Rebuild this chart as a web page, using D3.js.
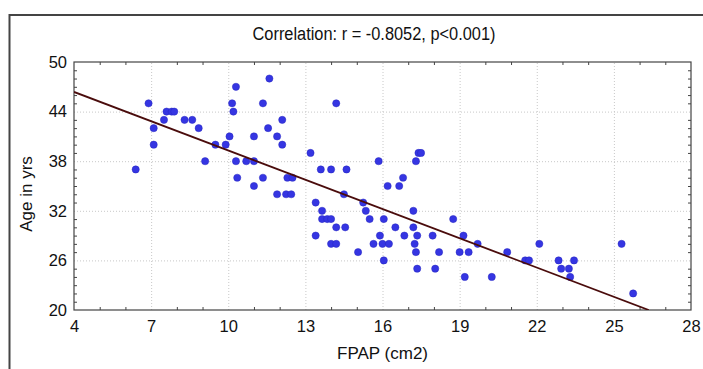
<!DOCTYPE html>
<html>
<head>
<meta charset="utf-8">
<script src="https://cdn.jsdelivr.net/npm/d3@7"></script>
<style>
  body { margin: 0; background: #fff; }
  svg { display: block; font-family: "Liberation Sans", Arial, sans-serif; }
  .grid line { stroke: #c8c8c8; stroke-dasharray: 1,2; }
  .grid .domain { display: none; }
  .minor line { stroke: #444; }
  .minor .domain { display: none; }
  .labels .domain { display: none; }
  .labels text { fill: #111; font-size: 16.5px; }
</style>
</head>
<body>
<div id="chart"></div>
<script>
// FPAP (cm2) and age (yrs) per subject
const fpap = [6.4, 6.9, 7.1, 7.1, 7.5, 7.6, 7.8, 7.9, 8.3, 8.6, 8.85, 9.1, 9.5, 9.9, 10.05, 10.3, 10.15, 10.2,
  10.3, 10.35, 10.7, 11.0, 11.0, 11.0, 11.35, 11.35, 11.6, 11.55, 11.9, 11.9, 12.1, 12.1, 13.2, 14.2, 13.6,
  14.0, 14.6, 12.3, 12.5, 15.85, 16.8, 17.3, 17.4, 17.5, 12.25, 12.45, 13.4, 13.65, 13.65, 13.85, 14.0, 13.4,
  14.2, 14.55, 14.0, 14.2, 14.5, 15.05, 15.25, 15.35, 15.5, 16.05, 15.65, 15.9, 16.0, 16.25, 16.05, 16.2,
  16.65, 16.5, 16.85, 17.2, 17.2, 17.35, 17.25, 17.3, 17.35, 17.95, 18.05, 18.2, 18.75, 19.0, 19.15, 19.35,
  19.7, 19.2, 20.25, 20.85, 21.55, 21.7, 22.1, 22.85, 22.95, 23.25, 23.45, 23.3, 25.3, 25.75];
const age = [37, 45, 42, 40, 43, 44, 44, 44, 43, 43, 42, 38, 40, 40, 41, 47, 45, 44,
  38, 36, 38, 41, 38, 35, 45, 36, 48, 42, 41, 34, 43, 40, 39, 45, 37,
  37, 37, 36, 36, 38, 36, 38, 39, 39, 34, 34, 33, 32, 31, 31, 31, 29,
  30, 30, 28, 28, 34, 27, 33, 32, 31, 31, 28, 29, 28, 28, 26, 35,
  35, 30, 29, 32, 30, 29, 28, 27, 25, 29, 25, 27, 31, 27, 29, 27,
  28, 24, 24, 27, 26, 26, 28, 26, 25, 25, 26, 24, 28, 22];

// fitted line: age = intercept + slope * fpap
const fitIntercept = 51.1;
const fitSlope = -1.18;

const xMajor = [4, 7, 10, 13, 16, 19, 22, 25, 28];
const yMajor = [20, 26, 32, 38, 44, 50];
const titleText = "Correlation: r = -0.8052, p<0.001)";
const xTitle = "FPAP (cm2)";
const yTitle = "Age in yrs";

const W = 703, H = 369;
const plot = { left: 74, top: 62, right: 691, bottom: 310 };

const svg = d3.select('#chart').append('svg')
    .attr('width', W)
    .attr('height', H);

// outer frame (runs off the right and bottom edge)
svg.append('rect')
    .attr('x', 9.5).attr('y', 15)
    .attr('width', W + 20).attr('height', H + 20)
    .attr('fill', 'none')
    .attr('stroke', '#444')
    .attr('stroke-width', 2);

const x = d3.scaleLinear().domain([4, 28]).range([plot.left, plot.right]);
const y = d3.scaleLinear().domain([20, 50]).range([plot.bottom, plot.top]);

const pw = plot.right - plot.left, ph = plot.bottom - plot.top;
const xMinor = d3.range(5, 28).filter(d => (d - 4) % 3 !== 0);
const yMinor = d3.range(21, 50).filter(d => (d - 20) % 6 !== 0);
const xInner = xMajor.slice(1, -1), yInner = yMajor.slice(1, -1);

// grid
svg.append('g').attr('class', 'grid')
    .attr('transform', `translate(0,${plot.bottom})`)
    .call(d3.axisBottom(x).tickValues(xInner).tickSize(-ph).tickFormat(''));
svg.append('g').attr('class', 'grid')
    .attr('transform', `translate(${plot.left},0)`)
    .call(d3.axisLeft(y).tickValues(yInner).tickSize(-pw).tickFormat(''));

// minor ticks on all four sides, pointing inward
svg.append('g').attr('class', 'minor')
    .attr('transform', `translate(0,${plot.bottom})`)
    .call(d3.axisBottom(x).tickValues(xMinor).tickSize(-3).tickFormat(''));
svg.append('g').attr('class', 'minor')
    .attr('transform', `translate(0,${plot.top})`)
    .call(d3.axisTop(x).tickValues(xMinor).tickSize(-3).tickFormat(''));
svg.append('g').attr('class', 'minor')
    .attr('transform', `translate(${plot.left},0)`)
    .call(d3.axisLeft(y).tickValues(yMinor).tickSize(-3).tickFormat(''));
svg.append('g').attr('class', 'minor')
    .attr('transform', `translate(${plot.right},0)`)
    .call(d3.axisRight(y).tickValues(yMinor).tickSize(-3).tickFormat(''));

// tick labels
svg.append('g').attr('class', 'labels')
    .attr('transform', `translate(0,${plot.bottom})`)
    .call(d3.axisBottom(x).tickValues(xMajor).tickSize(0).tickPadding(10));
svg.append('g').attr('class', 'labels')
    .attr('transform', `translate(${plot.left},0)`)
    .call(d3.axisLeft(y).tickValues(yMajor).tickSize(0).tickPadding(7));

// plot border
svg.append('rect')
    .attr('x', plot.left).attr('y', plot.top)
    .attr('width', pw).attr('height', ph)
    .attr('fill', 'none')
    .attr('stroke', '#444')
    .attr('stroke-width', 1.2);

svg.append('clipPath').attr('id', 'clip')
    .append('rect')
    .attr('x', plot.left).attr('y', plot.top)
    .attr('width', pw).attr('height', ph);

// points
svg.append('g')
    .selectAll('circle')
    .data(d3.zip(fpap, age))
    .join('circle')
        .attr('cx', d => x(d[0]))
        .attr('cy', d => y(d[1]))
        .attr('r', 3.6)
        .attr('fill', '#3535e2')
        .attr('stroke', '#2626c0')
        .attr('stroke-width', 0.5);

// fitted line
const fitEnd = (20 - fitIntercept) / fitSlope;
svg.append('line')
    .attr('clip-path', 'url(#clip)')
    .attr('x1', x(4)).attr('y1', y(fitIntercept + fitSlope * 4))
    .attr('x2', x(fitEnd)).attr('y2', y(fitIntercept + fitSlope * fitEnd))
    .attr('stroke', '#4a0c0c')
    .attr('stroke-width', 1.8);

// titles
svg.append('text')
    .attr('x', 374).attr('y', 40)
    .attr('text-anchor', 'middle')
    .attr('font-size', 18)
    .attr('textLength', 243)
    .attr('lengthAdjust', 'spacingAndGlyphs')
    .attr('fill', '#111')
    .text(titleText);

svg.append('text')
    .attr('x', (plot.left + plot.right) / 2).attr('y', 359)
    .attr('text-anchor', 'middle')
    .attr('font-size', 17)
    .attr('fill', '#111')
    .text(xTitle);

svg.append('text')
    .attr('transform', `translate(32,194) rotate(-90)`)
    .attr('text-anchor', 'middle')
    .attr('font-size', 17)
    .attr('fill', '#111')
    .text(yTitle);
</script>
</body>
</html>
